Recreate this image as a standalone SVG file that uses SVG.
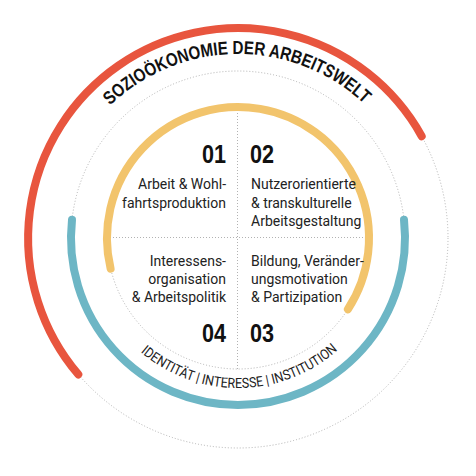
<svg xmlns="http://www.w3.org/2000/svg" width="476" height="476" viewBox="0 0 476 476">
<style>
.dot{fill:none;stroke:#a9a9a9;stroke-width:0.9;stroke-dasharray:1 2}
.ring{fill:none;stroke-width:8;stroke-linecap:round}
.num{font-family:"Liberation Sans",Arial,sans-serif;font-weight:bold;font-size:26px;fill:#111}
.body{font-family:Roboto,"Liberation Sans",sans-serif;font-size:14px;fill:#222}
.title{font-family:"Liberation Sans",Arial,sans-serif;font-weight:bold;font-size:18.5px;fill:#111}
.sub{font-family:Roboto,"Liberation Sans",sans-serif;font-size:14px;fill:#222}
</style>
<defs>
<path id="titlePath" d="M 110.2 105.6 A 184 184 0 0 1 365.8 105.6"/>
<path id="subPath" d="M 140.6 352.1 A 150 150 0 0 0 339.3 348.6"/>
</defs>
<rect width="476" height="476" fill="#fff"/>
<g id="guides">
<circle class="dot" cx="238" cy="238" r="210"/>
<circle class="dot" cx="238" cy="238" r="167"/>
<circle class="dot" cx="238" cy="238" r="131"/>
<line class="dot" x1="237.5" y1="107" x2="237.5" y2="369"/>
<line class="dot" x1="107" y1="237.5" x2="369" y2="237.5"/>
</g>
<g id="rings">
<path class="ring" stroke="#E8553E" d="M 78.3 374.4 A 210 210 0 1 1 421.7 136.2"/>
<path class="ring" stroke="#6DB6C5" d="M 72 219.7 A 167 167 0 1 0 404 219.7"/>
<path class="ring" stroke="#F2C46C" d="M 110.6 268.6 A 131 131 0 1 1 347.9 309.3"/>
</g>
<g id="title">
<text class="title"><textPath href="#titlePath" textLength="280" lengthAdjust="spacingAndGlyphs">SOZIOÖKONOMIE DER ARBEITSWELT</textPath></text>
</g>
<g id="subtitle">
<text class="sub"><textPath href="#subPath" textLength="215" lengthAdjust="spacingAndGlyphs">IDENTITÄT | INTERESSE | INSTITUTION</textPath></text>
</g>
<g id="q01">
<text class="num" x="226" y="163" text-anchor="end" textLength="24" lengthAdjust="spacingAndGlyphs">01</text>
<text class="body" text-anchor="end"><tspan x="226" y="189">Arbeit &amp; Wohl-</tspan><tspan x="226" y="207.5">fahrtsproduktion</tspan></text>
</g>
<g id="q02">
<text class="num" x="250" y="163" textLength="24" lengthAdjust="spacingAndGlyphs">02</text>
<text class="body"><tspan x="251" y="189">Nutzerorientierte</tspan><tspan x="251" y="207.5">&amp; transkulturelle</tspan><tspan x="251" y="226">Arbeitsgestaltung</tspan></text>
</g>
<g id="q04">
<text class="num" x="226" y="342" text-anchor="end" textLength="24" lengthAdjust="spacingAndGlyphs">04</text>
<text class="body" text-anchor="end"><tspan x="226" y="266">Interessens-</tspan><tspan x="226" y="284">organisation</tspan><tspan x="226" y="302">&amp; Arbeitspolitik</tspan></text>
</g>
<g id="q03">
<text class="num" x="250" y="342" textLength="24" lengthAdjust="spacingAndGlyphs">03</text>
<text class="body"><tspan x="251" y="266">Bildung, Veränder-</tspan><tspan x="251" y="284">ungsmotivation</tspan><tspan x="251" y="302">&amp; Partizipation</tspan></text>
</g>
</svg>
